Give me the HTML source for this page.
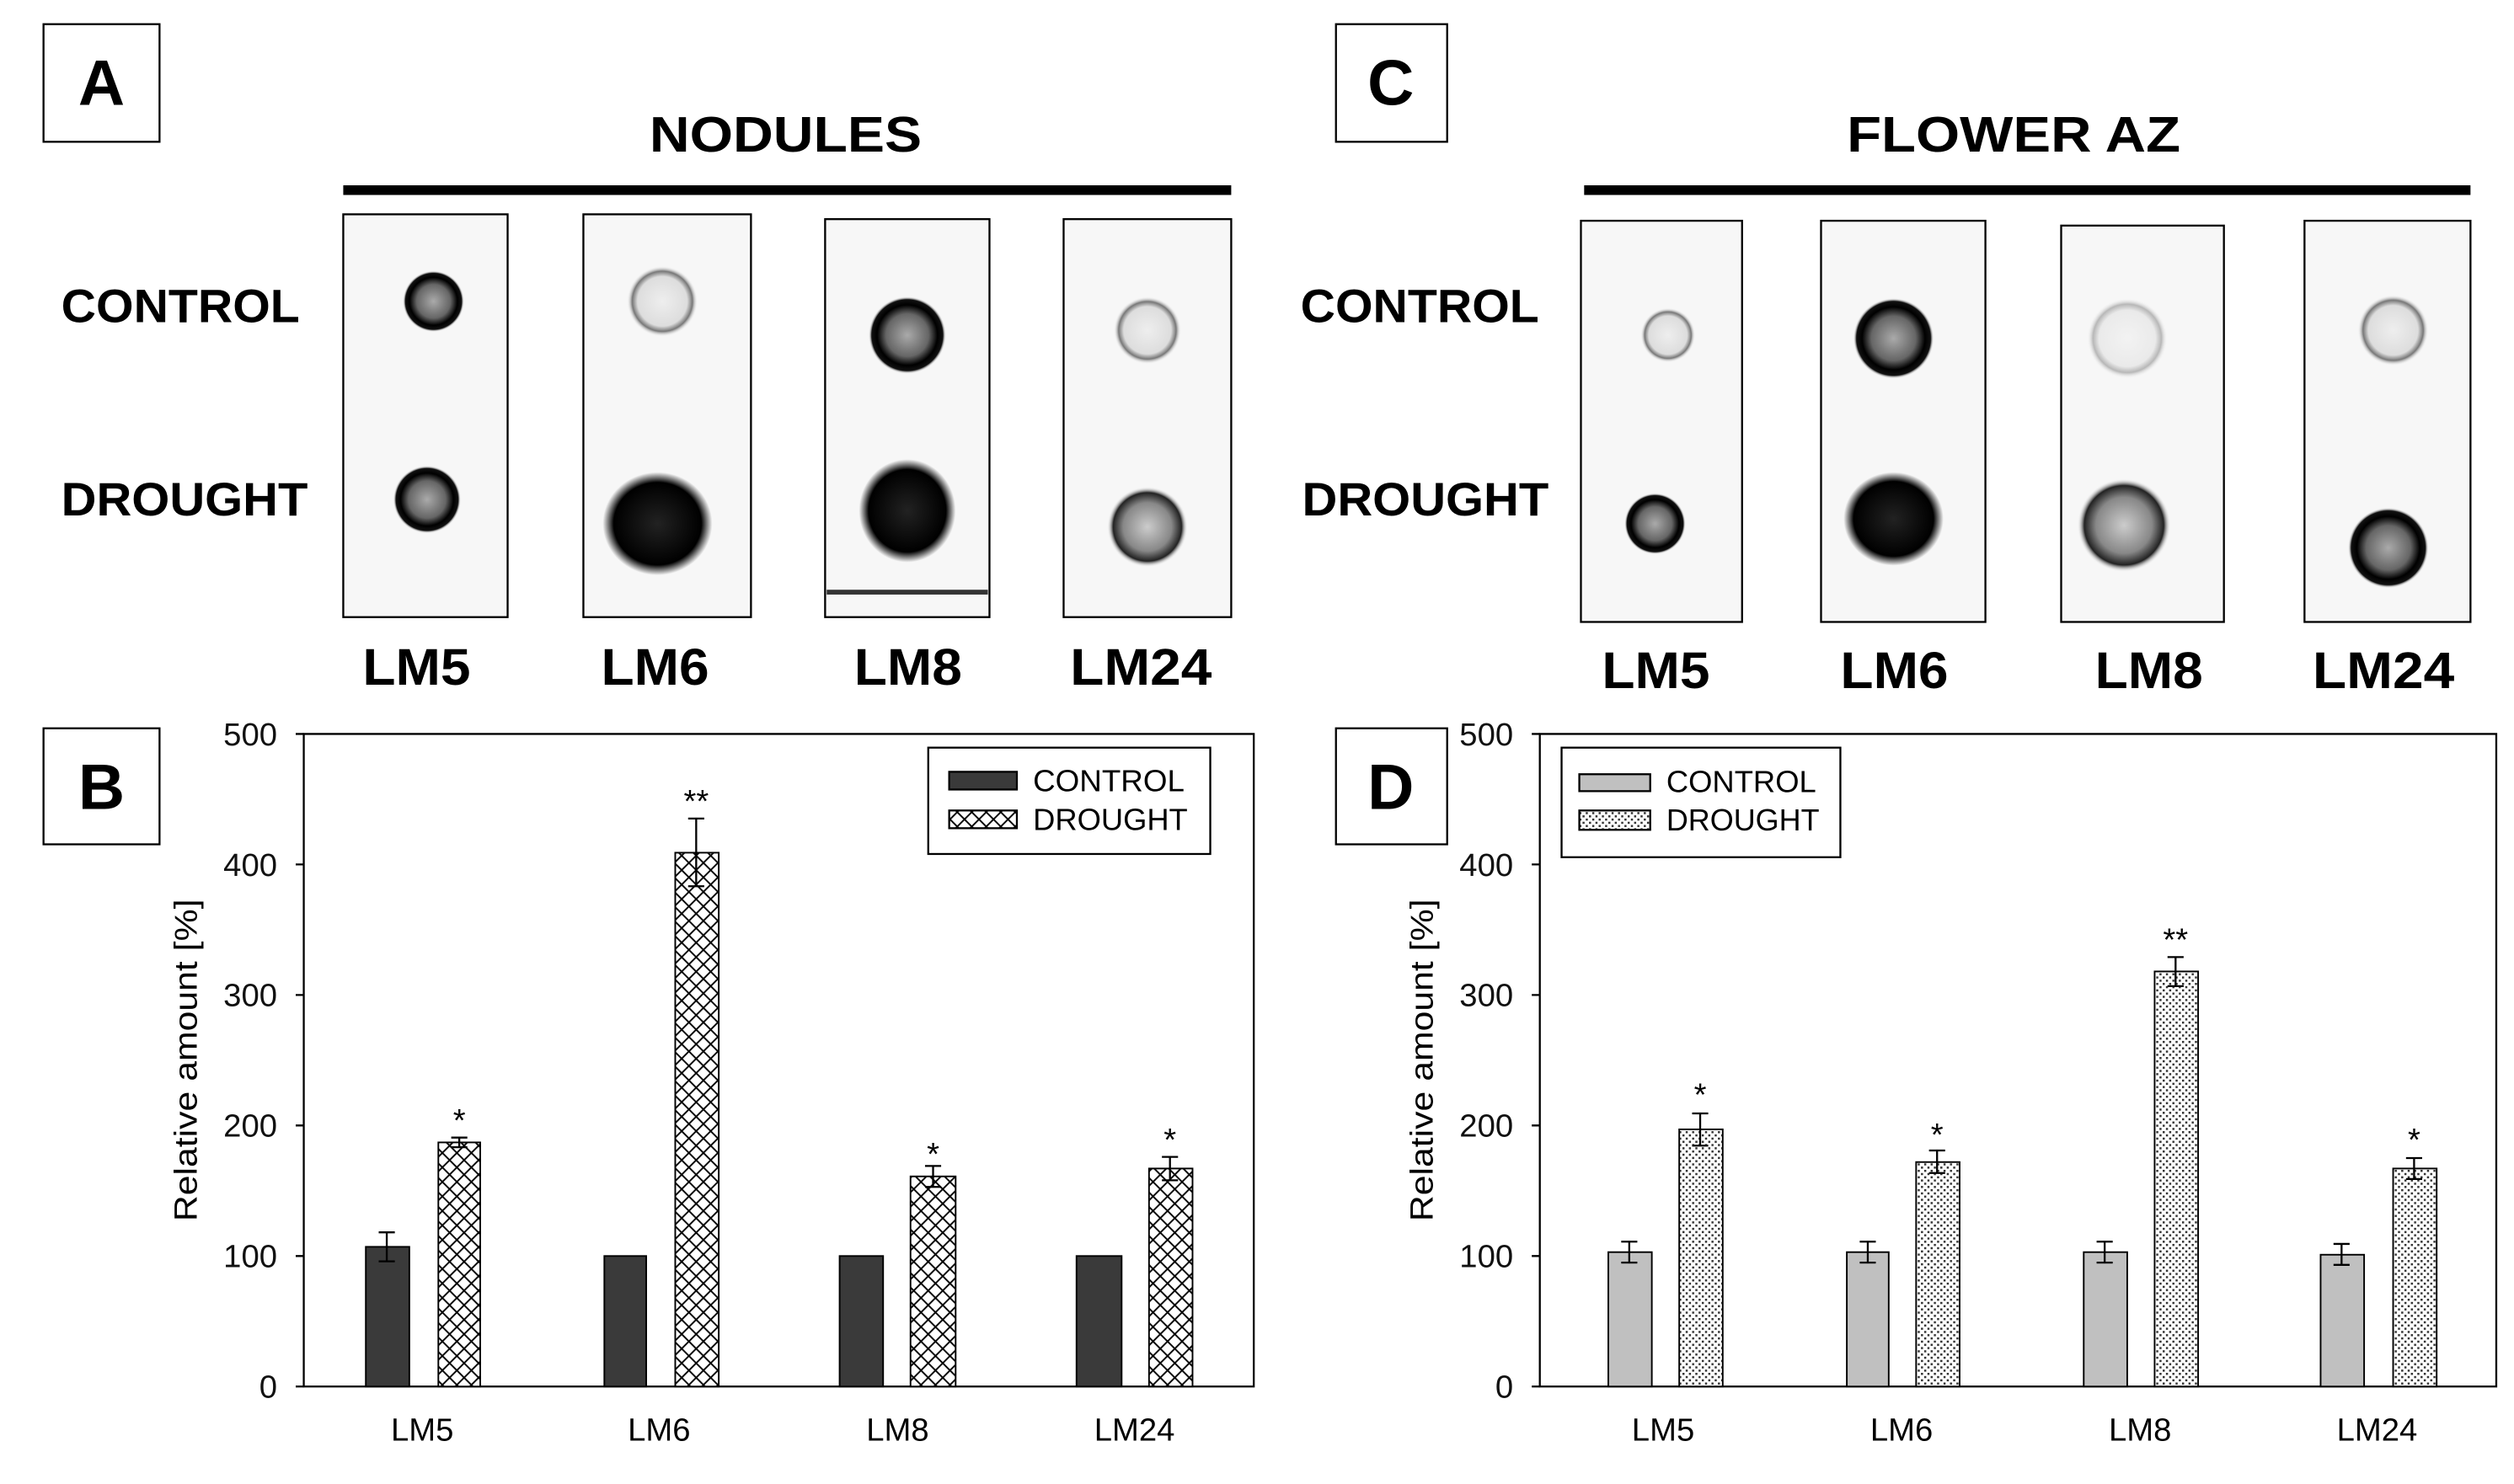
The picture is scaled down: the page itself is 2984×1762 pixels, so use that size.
<!DOCTYPE html>
<html><head><meta charset="utf-8"><style>html,body{margin:0;padding:0;background:#fff}svg{display:block}</style></head><body>
<svg width="2984" height="1762" viewBox="0 0 1560 921" preserveAspectRatio="none" xmlns="http://www.w3.org/2000/svg" font-family="Liberation Sans, sans-serif">
<defs>
<pattern id="hx" width="9" height="9" patternUnits="userSpaceOnUse"><rect width="9" height="9" fill="#fff"/><path d="M0 0L9 9M9 0L0 9" stroke="#000" stroke-width="1"/></pattern>
<pattern id="dt" width="4" height="4" patternUnits="userSpaceOnUse"><rect width="4" height="4" fill="#fff"/><rect x="0" y="0" width="1.3" height="1.3" fill="#333"/><rect x="2" y="2" width="1.3" height="1.3" fill="#333"/></pattern>
<radialGradient id="blk"><stop offset="0" stop-color="#222"/><stop offset="0.8" stop-color="#000"/><stop offset="1" stop-color="#000" stop-opacity="0"/></radialGradient>
<radialGradient id="ringD"><stop offset="0" stop-color="#aaa"/><stop offset="0.55" stop-color="#666"/><stop offset="0.78" stop-color="#000"/><stop offset="0.92" stop-color="#111"/><stop offset="1" stop-color="#fff" stop-opacity="0"/></radialGradient>
<radialGradient id="ringL"><stop offset="0" stop-color="#eee"/><stop offset="0.7" stop-color="#ddd"/><stop offset="0.85" stop-color="#777"/><stop offset="1" stop-color="#fff" stop-opacity="0"/></radialGradient>
<radialGradient id="ringM"><stop offset="0" stop-color="#ccc"/><stop offset="0.6" stop-color="#888"/><stop offset="0.85" stop-color="#222"/><stop offset="1" stop-color="#fff" stop-opacity="0"/></radialGradient>
</defs>
<rect width="1560" height="921" fill="#fff"/>
<g fill="none" stroke="#000" stroke-width="1.2">
<rect x="27" y="15" width="72" height="73"/><rect x="829" y="15" width="69" height="73"/>
<rect x="27" y="452" width="72" height="72"/><rect x="829" y="452" width="69" height="72"/>
</g>
<g font-weight="bold" font-size="40" text-anchor="middle">
<text x="63" y="65">A</text><text x="863" y="65">C</text><text x="63" y="502">B</text><text x="863" y="502">D</text>
</g>
<g font-weight="bold" font-size="31">
<text x="403" y="94" textLength="169" lengthAdjust="spacingAndGlyphs">NODULES</text><text x="1146" y="94" textLength="207" lengthAdjust="spacingAndGlyphs">FLOWER AZ</text>
</g>
<rect x="213" y="115" width="551" height="6" fill="#000"/>
<rect x="983" y="115" width="550" height="6" fill="#000"/>
<g font-weight="bold" font-size="29">
<text x="38" y="200" textLength="148" lengthAdjust="spacingAndGlyphs">CONTROL</text><text x="38" y="320" textLength="153" lengthAdjust="spacingAndGlyphs">DROUGHT</text>
<text x="807" y="200" textLength="148" lengthAdjust="spacingAndGlyphs">CONTROL</text><text x="808" y="320" textLength="153" lengthAdjust="spacingAndGlyphs">DROUGHT</text>
</g>
<g fill="#f7f7f7" stroke="#000" stroke-width="1.2">
<rect x="213" y="133" width="102" height="250"/><rect x="362" y="133" width="104" height="250"/>
<rect x="512" y="136" width="102" height="247"/><rect x="660" y="136" width="104" height="247"/>
<rect x="981" y="137" width="100" height="249"/><rect x="1130" y="137" width="102" height="249"/>
<rect x="1279" y="140" width="101" height="246"/><rect x="1430" y="137" width="103" height="249"/>
</g>
<rect x="513" y="366" width="100" height="3" fill="#333"/>
<circle cx="269" cy="187" r="19" fill="url(#ringD)"/>
<circle cx="265" cy="310" r="21" fill="url(#ringD)"/>
<circle cx="411" cy="187" r="22" fill="url(#ringL)"/>
<ellipse cx="408" cy="325" rx="34" ry="32" fill="url(#blk)"/>
<circle cx="563" cy="208" r="24" fill="url(#ringD)"/>
<ellipse cx="563" cy="317" rx="30" ry="32" fill="url(#blk)"/>
<circle cx="712" cy="205" r="21" fill="url(#ringL)"/>
<circle cx="712" cy="327" r="25" fill="url(#ringM)"/>
<circle cx="1035" cy="208" r="17" fill="url(#ringL)"/>
<circle cx="1027" cy="325" r="19" fill="url(#ringD)"/>
<circle cx="1175" cy="210" r="25" fill="url(#ringD)"/>
<ellipse cx="1175" cy="322" rx="31" ry="29" fill="url(#blk)"/>
<circle cx="1320" cy="210" r="25" fill="url(#ringL)" opacity="0.5"/>
<circle cx="1318" cy="326" r="29" fill="url(#ringM)"/>
<circle cx="1485" cy="205" r="22" fill="url(#ringL)"/>
<circle cx="1482" cy="340" r="25" fill="url(#ringD)"/>
<g font-weight="bold" font-size="32">
<text x="225" y="425" textLength="67" lengthAdjust="spacingAndGlyphs">LM5</text><text x="373" y="425" textLength="67" lengthAdjust="spacingAndGlyphs">LM6</text><text x="530" y="425" textLength="67" lengthAdjust="spacingAndGlyphs">LM8</text><text x="664" y="425" textLength="88" lengthAdjust="spacingAndGlyphs">LM24</text>
<text x="994" y="427" textLength="67" lengthAdjust="spacingAndGlyphs">LM5</text><text x="1142" y="427" textLength="67" lengthAdjust="spacingAndGlyphs">LM6</text><text x="1300" y="427" textLength="67" lengthAdjust="spacingAndGlyphs">LM8</text><text x="1435" y="427" textLength="88" lengthAdjust="spacingAndGlyphs">LM24</text>
</g>
<g stroke="#000" stroke-width="1.2" fill="none">
<path d="M188.5 455.5H778V860.5H188.5Z"/>
<path d="M183.5 455.5H188.5M183.5 536.5H188.5M183.5 617.5H188.5M183.5 698.5H188.5M183.5 779.5H188.5M183.5 860.5H188.5"/>
<path d="M950.5 455.5H955.5M950.5 536.5H955.5M950.5 617.5H955.5M950.5 698.5H955.5M950.5 779.5H955.5M950.5 860.5H955.5"/>
<path d="M955.5 455.5H1549V860.5H955.5Z"/>
</g>
<g font-size="20" text-anchor="end" fill="#111">
<text x="172" y="462.5">500</text><text x="172" y="543.5">400</text><text x="172" y="624.5">300</text><text x="172" y="705.5">200</text><text x="172" y="786.5">100</text><text x="172" y="867.5">0</text>
<text x="939" y="462.5">500</text><text x="939" y="543.5">400</text><text x="939" y="624.5">300</text><text x="939" y="705.5">200</text><text x="939" y="786.5">100</text><text x="939" y="867.5">0</text>
</g>
<text transform="translate(122,658) rotate(-90)" font-size="20" text-anchor="middle" textLength="200" lengthAdjust="spacingAndGlyphs">Relative amount [%]</text>
<text transform="translate(889,658) rotate(-90)" font-size="20" text-anchor="middle" textLength="200" lengthAdjust="spacingAndGlyphs">Relative amount [%]</text>
<g font-size="20" text-anchor="middle">
<text x="262" y="894">LM5</text><text x="409" y="894">LM6</text><text x="557" y="894">LM8</text><text x="704" y="894">LM24</text>
<text x="1032" y="894">LM5</text><text x="1180" y="894">LM6</text><text x="1328" y="894">LM8</text><text x="1475" y="894">LM24</text>
</g>
<g stroke="#000" stroke-width="1">
<rect x="227" y="773.8" width="27" height="86.7" fill="#3a3a3a"/>
<rect x="272" y="709" width="26" height="151.5" fill="url(#hx)"/>
<rect x="375" y="779.5" width="26" height="81" fill="#3a3a3a"/>
<rect x="419" y="529.2" width="27" height="331.3" fill="url(#hx)"/>
<rect x="521" y="779.5" width="27" height="81" fill="#3a3a3a"/>
<rect x="565" y="730.1" width="28" height="130.4" fill="url(#hx)"/>
<rect x="668" y="779.5" width="28" height="81" fill="#3a3a3a"/>
<rect x="713" y="725.2" width="27" height="135.3" fill="url(#hx)"/>
<rect x="998" y="777.1" width="27" height="83.4" fill="#c0c0c0"/>
<rect x="1042" y="700.9" width="27" height="159.6" fill="url(#dt)"/>
<rect x="1146" y="777.1" width="26" height="83.4" fill="#c0c0c0"/>
<rect x="1189" y="721.2" width="27" height="139.3" fill="url(#dt)"/>
<rect x="1293" y="777.1" width="27" height="83.4" fill="#c0c0c0"/>
<rect x="1337" y="602.9" width="27" height="257.6" fill="url(#dt)"/>
<rect x="1440" y="778.7" width="27" height="81.8" fill="#c0c0c0"/>
<rect x="1485" y="725.2" width="27" height="135.3" fill="url(#dt)"/>
</g>
<g stroke="#000" stroke-width="1.2" fill="none">
<path d="M240 764.8V782.8M235 764.8H245M235 782.8H245"/>
<path d="M285 706V712M280 706H290M280 712H290"/>
<path d="M432 508V550M427 508H437M427 550H437"/>
<path d="M579 723.6V736.6M574 723.6H584M574 736.6H584"/>
<path d="M726 718V732.5M721 718H731M721 732.5H731"/>
<path d="M1011 770.6V783.6M1006 770.6H1016M1006 783.6H1016"/>
<path d="M1055 691V711M1050 691H1060M1050 711H1060"/>
<path d="M1159 770.6V783.6M1154 770.6H1164M1154 783.6H1164"/>
<path d="M1202 714V728M1197 714H1207M1197 728H1207"/>
<path d="M1306 770.6V783.6M1301 770.6H1311M1301 783.6H1311"/>
<path d="M1350 594V612M1345 594H1355M1345 612H1355"/>
<path d="M1453 772V785M1448 772H1458M1448 785H1458"/>
<path d="M1498 718.7V731.7M1493 718.7H1503M1493 731.7H1503"/>
</g>
<g font-size="20" text-anchor="middle">
<text x="285" y="702">*</text><text x="432" y="504">**</text><text x="579" y="723">*</text><text x="726" y="714">*</text>
<text x="1055" y="686">*</text><text x="1202" y="711">*</text><text x="1350" y="590">**</text><text x="1498" y="714">*</text>
</g>
<g stroke="#000" stroke-width="1.2">
<rect x="576" y="464" width="175" height="66" fill="#fff"/>
<rect x="589" y="479" width="42" height="11" fill="#3a3a3a"/>
<rect x="589" y="503" width="42" height="11" fill="url(#hx)"/>
<rect x="969" y="464" width="173" height="68" fill="#fff"/>
<rect x="980" y="480.5" width="44" height="10.5" fill="#c0c0c0"/>
<rect x="980" y="503" width="44" height="12" fill="url(#dt)"/>
</g>
<g font-size="19">
<text x="641" y="491" textLength="94" lengthAdjust="spacingAndGlyphs">CONTROL</text><text x="641" y="515" textLength="96" lengthAdjust="spacingAndGlyphs">DROUGHT</text>
<text x="1034" y="491.5" textLength="93" lengthAdjust="spacingAndGlyphs">CONTROL</text><text x="1034" y="515.5" textLength="95" lengthAdjust="spacingAndGlyphs">DROUGHT</text>
</g>
</svg>
</body></html>
